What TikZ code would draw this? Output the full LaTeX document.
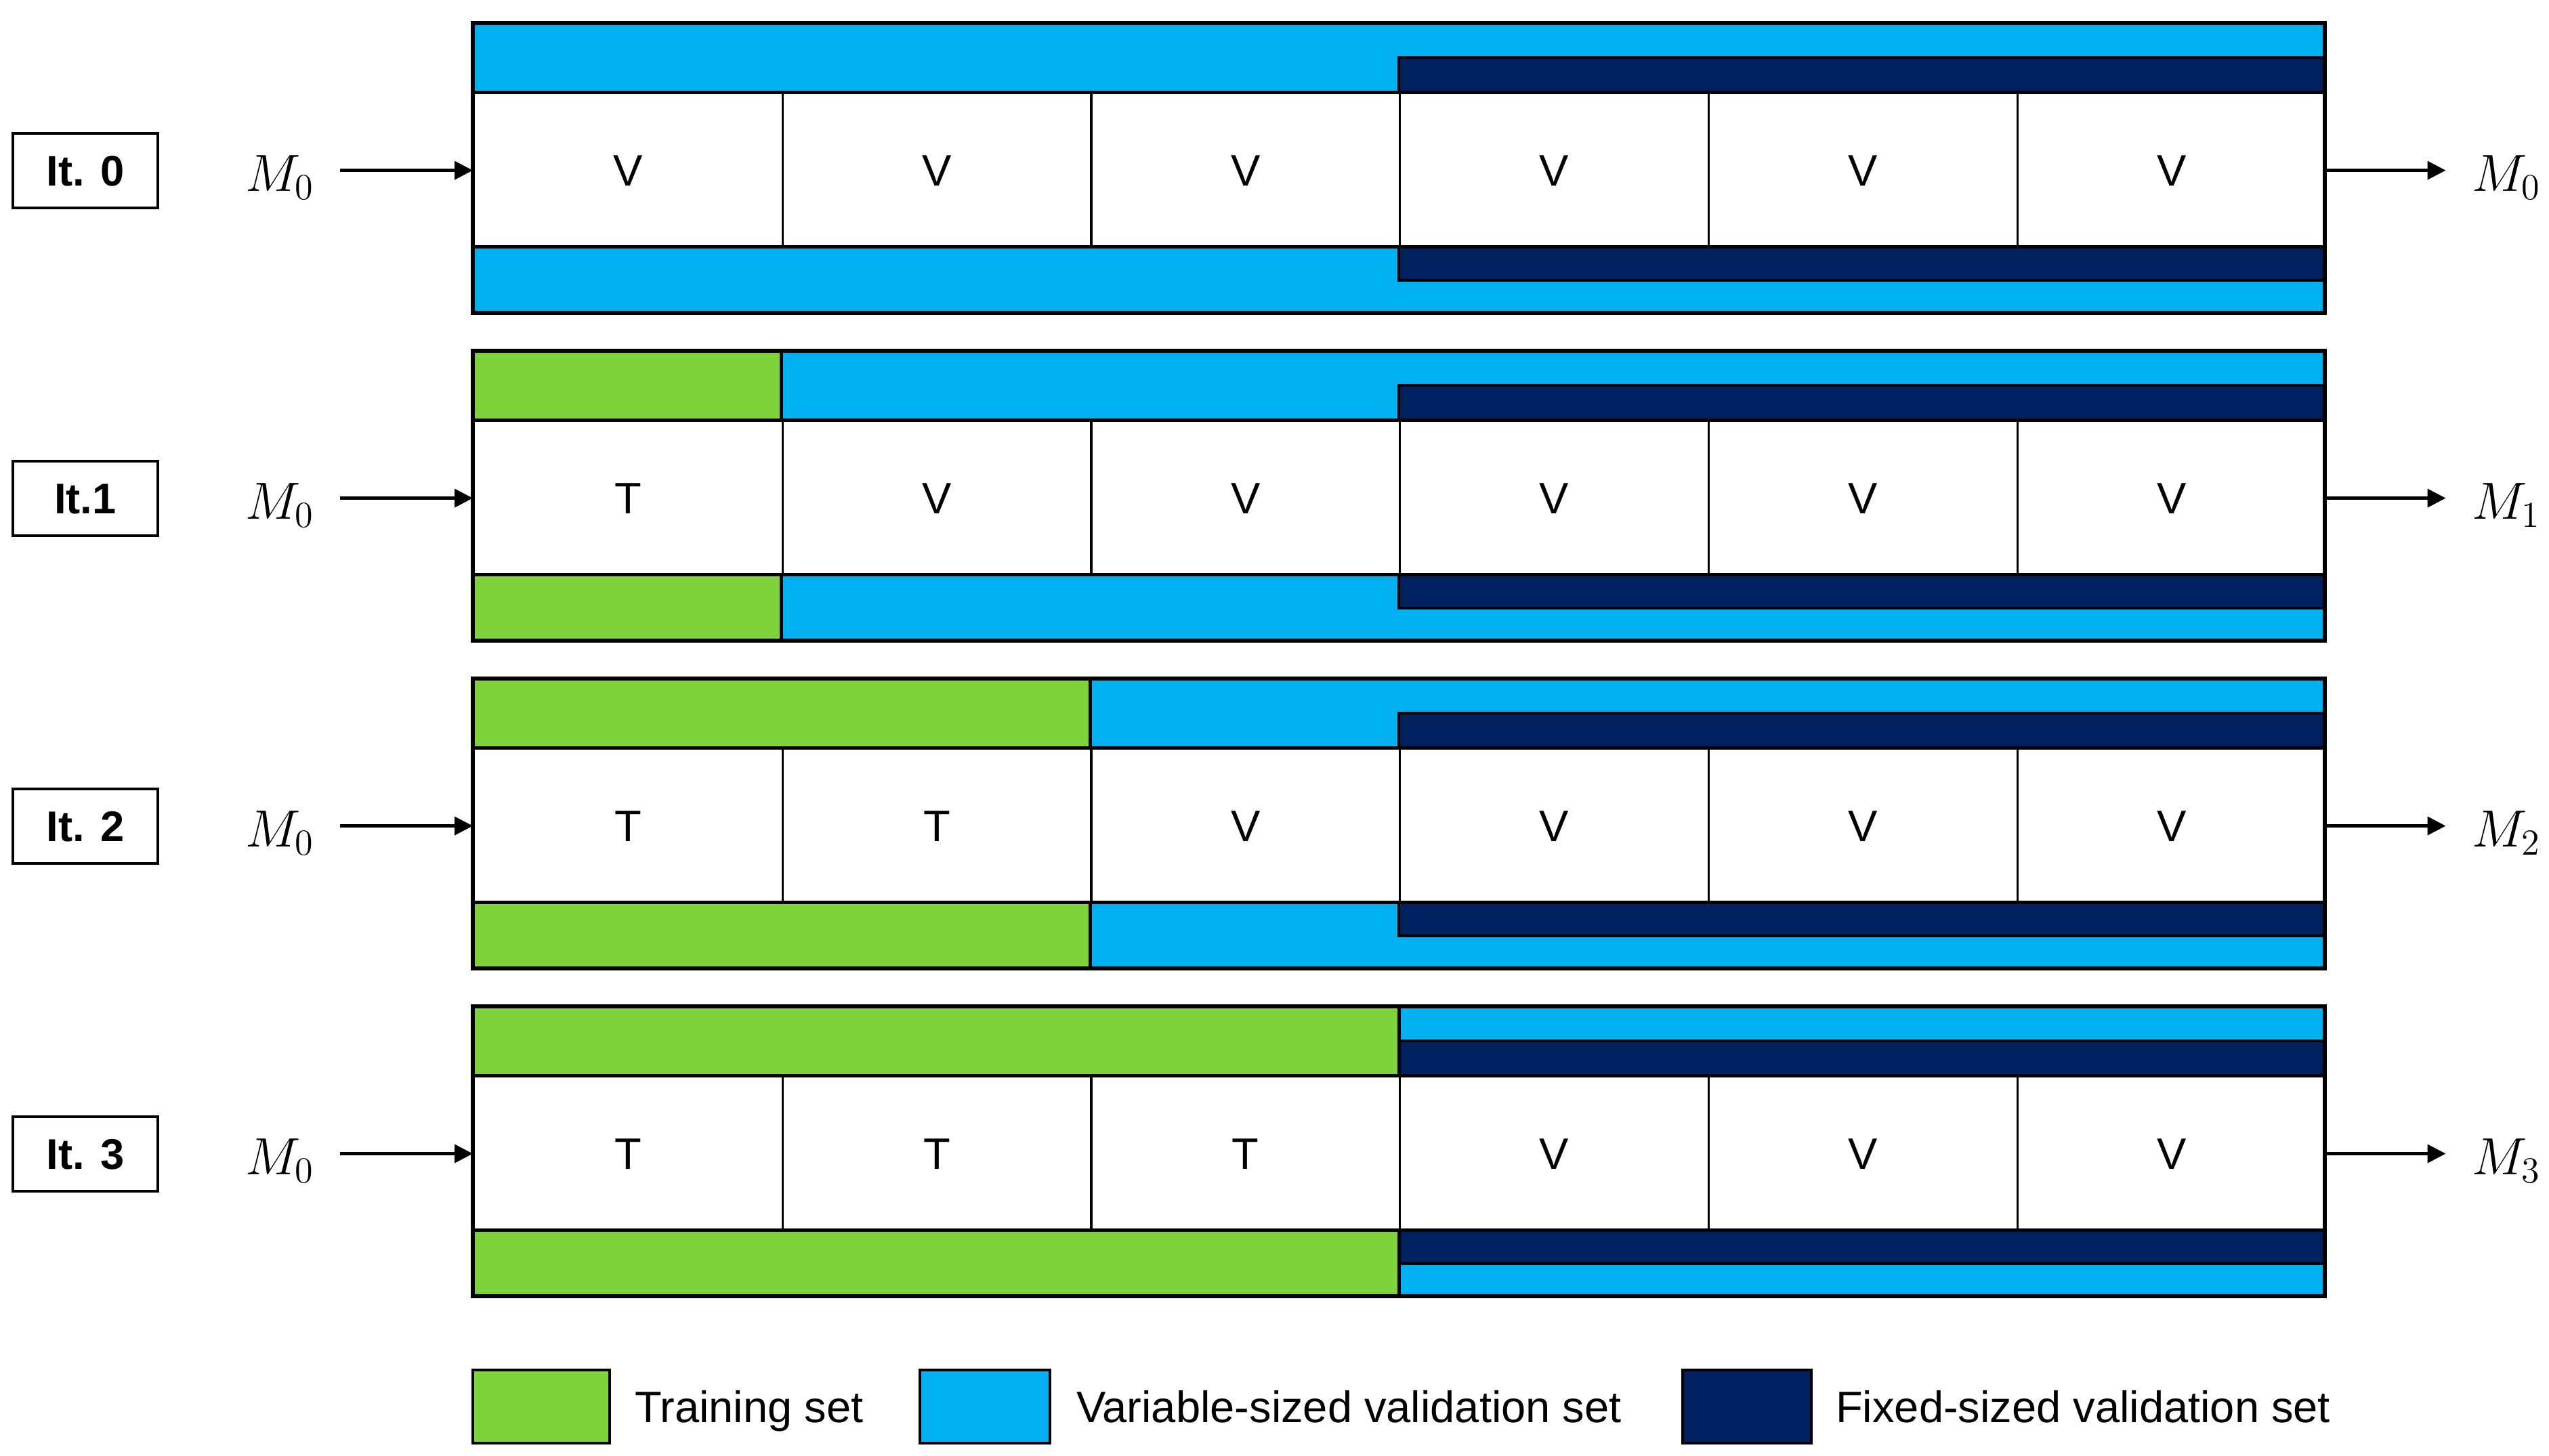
\RequirePackage{fix-cm}
\documentclass[tikz,border=0pt]{standalone}
\usepackage{fontspec}
\setmainfont{Liberation Sans}
\usepackage{tikz}
\usetikzlibrary{arrows.meta, positioning}
\definecolor{tgreen}{HTML}{7ED33A}
\definecolor{vblue}{HTML}{00B0F0}
\definecolor{fnavy}{HTML}{002060}

\tikzset{
  band/.style={draw=black, line width=1.4pt},
  outer/.style={draw=black, line width=1.6pt},
  cell/.style={draw, line width=0.9pt, minimum width=4.557cm, minimum height=2.28cm,
    inner sep=0pt, anchor=north west, text height=13.3pt, text depth=0pt,
    font=\fontsize{18.5}{22}\selectfont},
  itbox/.style={draw, line width=1.4pt, minimum width=2.14cm, minimum height=1.1cm,
    text height=12.9pt, text depth=0pt, font=\bfseries\fontsize{18}{22}\selectfont},
  mlabel/.style={inner sep=0.38cm, font=\fontsize{22}{26}\selectfont},
  flow/.style={-{Triangle[length=0.27cm, width=0.27cm]}, line width=1.2pt},
  legbox/.style={draw, line width=1.4pt, minimum height=1.08cm, inner sep=0pt},
  legtext/.style={inner sep=0pt, text height=13.3pt, text depth=0pt,
    font=\fontsize{18.5}{22}\selectfont}
}

\begin{document}
\begin{tikzpicture}
  \useasboundingbox (0,0) rectangle (37.63,-21.5);

  % one row per iteration: \r = row, \k = number of training folds
  \foreach \r/\k/\lab in {0/0/{It. 0}, 1/1/{It.1}, 2/2/{It. 2}, 3/3/{It. 3}}{
    \pgfmathsetmacro{\yt}{-0.34-4.84*\r}
    \pgfmathsetmacro{\xg}{6.98+4.557*\k}
    \draw[band, fill=vblue] (6.98,\yt) rectangle (34.32,\yt-1.02);
    \draw[band, fill=vblue] (6.98,\yt-3.30) rectangle (34.32,\yt-4.28);
    \draw[band, fill=fnavy] (20.65,\yt-0.51) rectangle (34.32,\yt-1.02);
    \draw[band, fill=fnavy] (20.65,\yt-3.30) rectangle (34.32,\yt-3.80);
    \ifnum\k>0
      \draw[band, fill=tgreen] (6.98,\yt) rectangle (\xg,\yt-1.02);
      \draw[band, fill=tgreen] (6.98,\yt-3.30) rectangle (\xg,\yt-4.28);
    \fi
    \foreach \j in {1,...,6}{
      \pgfmathsetmacro{\xc}{6.98+4.557*(\j-1)}
      \node[cell] at (\xc,\yt-1.02) (c\r-\j) {\ifnum\j>\k V\else T\fi};
    }
    \draw[outer] (6.98,\yt) rectangle (34.32,\yt-4.28);

    \node[itbox] at (1.26,\yt-2.18) (it\r) {\lab};
    \node[mlabel] at (4.13,\yt-2.28) (min\r) {$M_0$};
    \node[mlabel] at (37.0,\yt-2.28) (mout\r) {$M_\r$};
    \draw[flow] (min\r.east |- c\r-1.west) -- (c\r-1.west);
    \draw[flow] (c\r-6.east) -- (mout\r.west |- c\r-6.east);
  }

  % legend
  \node[legbox, fill=tgreen, minimum width=2.02cm] at (7.99,-20.77) (lg1) {};
  \node[legtext, right=0.34cm of lg1] (lt1) {Training set};
  \node[legbox, fill=vblue, minimum width=1.92cm] at (14.54,-20.77) (lg2) {};
  \node[legtext, right=0.36cm of lg2] (lt2) {Variable-sized validation set};
  \node[legbox, fill=fnavy, minimum width=1.90cm] at (25.79,-20.77) (lg3) {};
  \node[legtext, right=0.33cm of lg3] (lt3) {Fixed-sized validation set};

\end{tikzpicture}
\end{document}
